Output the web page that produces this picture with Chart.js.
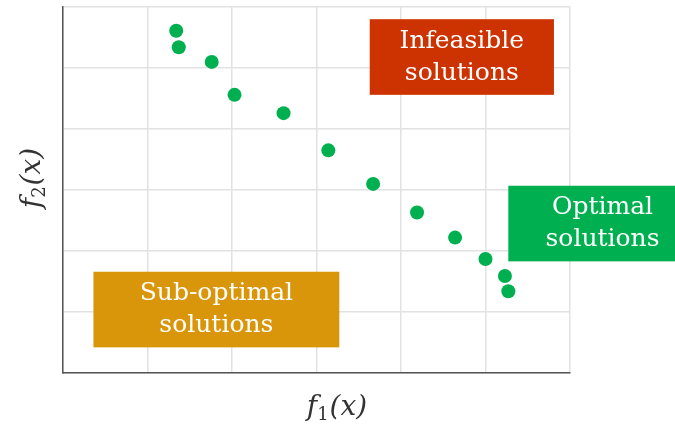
<!DOCTYPE html>
<html>
<head>
<meta charset="utf-8">
<script src="https://cdn.jsdelivr.net/npm/chart.js@4/dist/chart.umd.min.js"></script>
<style>
    body { margin: 0; background: #ffffff; }
    #wrap { width: 675px; height: 432px; }
</style>
</head>
<body>
<div id="wrap"><canvas id="paretoChart" width="675" height="432"></canvas></div>
<script>
// Data (axis units: grid cells)
const f1Values = [1.34, 1.37, 1.76, 2.03, 2.61, 3.14, 3.67, 4.19, 4.64, 5.00, 5.23, 5.27];
const f2Values = [5.61, 5.34, 5.10, 4.56, 4.26, 3.65, 3.10, 2.63, 2.22, 1.87, 1.59, 1.34];
const gridTicks = [0, 1, 2, 3, 4, 5, 6];
const regionLabels = [['Infeasible', 'solutions'], ['Optimal', 'solutions'], ['Sub-optimal', 'solutions']];

// Region boxes, in data coordinates
const regionBoxes = [
    { x0: 3.63, x1: 5.81, y0: 4.56, y1: 5.80, color: '#cc3300' },
    { x0: 5.27, x1: 7.50, y0: 1.83, y1: 3.07, color: '#00b050' },
    { x0: 0.36, x1: 3.27, y0: 0.42, y1: 1.66, color: '#d9960a' }
];

// Draw the coloured region labels
const regionPlugin = {
    id: 'regionPlugin',
    afterDatasetsDraw(chart) {
        const ctx = chart.ctx;
        const xs = chart.scales.x;
        const ys = chart.scales.y;
        ctx.save();
        regionBoxes.forEach((box, i) => {
            const left = xs.getPixelForValue(box.x0);
            const right = xs.getPixelForValue(box.x1);
            const top = ys.getPixelForValue(box.y1);
            const bottom = ys.getPixelForValue(box.y0);
            ctx.fillStyle = box.color;
            ctx.fillRect(left, top, right - left, bottom - top);

            const cx = (left + right) / 2;
            const cy = (top + bottom) / 2;
            ctx.fillStyle = '#ffffff';
            ctx.font = '25px "DejaVu Serif"';
            ctx.textAlign = 'center';
            ctx.textBaseline = 'middle';
            const lines = regionLabels[i];
            lines.forEach((line, j) => {
                ctx.fillText(line, cx, cy + (j - (lines.length - 1) / 2) * 32);
            });
        });
        ctx.restore();
    }
};

// Axis titles with subscripts
function drawMathLabel(ctx, sub, x, y) {
    const big = 'italic 28px "DejaVu Serif"';
    const small = '18px "DejaVu Serif"';
    ctx.font = big;
    const wf = ctx.measureText('f').width;
    const wx = ctx.measureText('(x)').width;
    ctx.font = small;
    const ws = ctx.measureText(sub).width;
    const total = wf + ws + wx + 1;
    let px = x - total / 2;
    ctx.textAlign = 'left';
    ctx.textBaseline = 'alphabetic';
    ctx.font = big;
    ctx.fillText('f', px, y);
    px += wf;
    ctx.font = small;
    ctx.fillText(sub, px, y + 5);
    px += ws + 1;
    ctx.font = big;
    ctx.fillText('(x)', px, y);
}

const axisTitlePlugin = {
    id: 'axisTitlePlugin',
    afterDraw(chart) {
        const ctx = chart.ctx;
        ctx.save();
        ctx.fillStyle = '#333333';
        drawMathLabel(ctx, '1', 337, 415);
        ctx.translate(40, 178);
        ctx.rotate(-Math.PI / 2);
        drawMathLabel(ctx, '2', 0, 0);
        ctx.restore();
    }
};

const points = f1Values.map((v, i) => ({ x: v, y: f2Values[i] }));

new Chart(document.getElementById('paretoChart'), {
    type: 'scatter',
    data: {
        datasets: [{
            label: 'Solutions',
            data: points,
            backgroundColor: '#00b050',
            borderWidth: 0,
            pointRadius: 7,
            pointHoverRadius: 7
        }]
    },
    options: {
        responsive: false,
        animation: false,
        layout: {
            padding: { left: 63, right: 105, top: 7, bottom: 59 }
        },
        plugins: {
            legend: { display: false },
            tooltip: { enabled: false }
        },
        scales: {
            x: {
                type: 'linear',
                min: gridTicks[0],
                max: gridTicks[gridTicks.length - 1],
                afterBuildTicks: (scale) => { scale.ticks = gridTicks.map(v => ({ value: v })); },
                ticks: { display: false },
                grid: { color: '#e2e2e2', lineWidth: 1.5, drawTicks: false },
                border: { color: '#555555', width: 1.5 }
            },
            y: {
                type: 'linear',
                min: gridTicks[0],
                max: gridTicks[gridTicks.length - 1],
                afterBuildTicks: (scale) => { scale.ticks = gridTicks.map(v => ({ value: v })); },
                ticks: { display: false },
                grid: { color: '#e2e2e2', lineWidth: 1.5, drawTicks: false },
                border: { color: '#555555', width: 1.5 }
            }
        }
    },
    plugins: [regionPlugin, axisTitlePlugin]
});
</script>
</body>
</html>
